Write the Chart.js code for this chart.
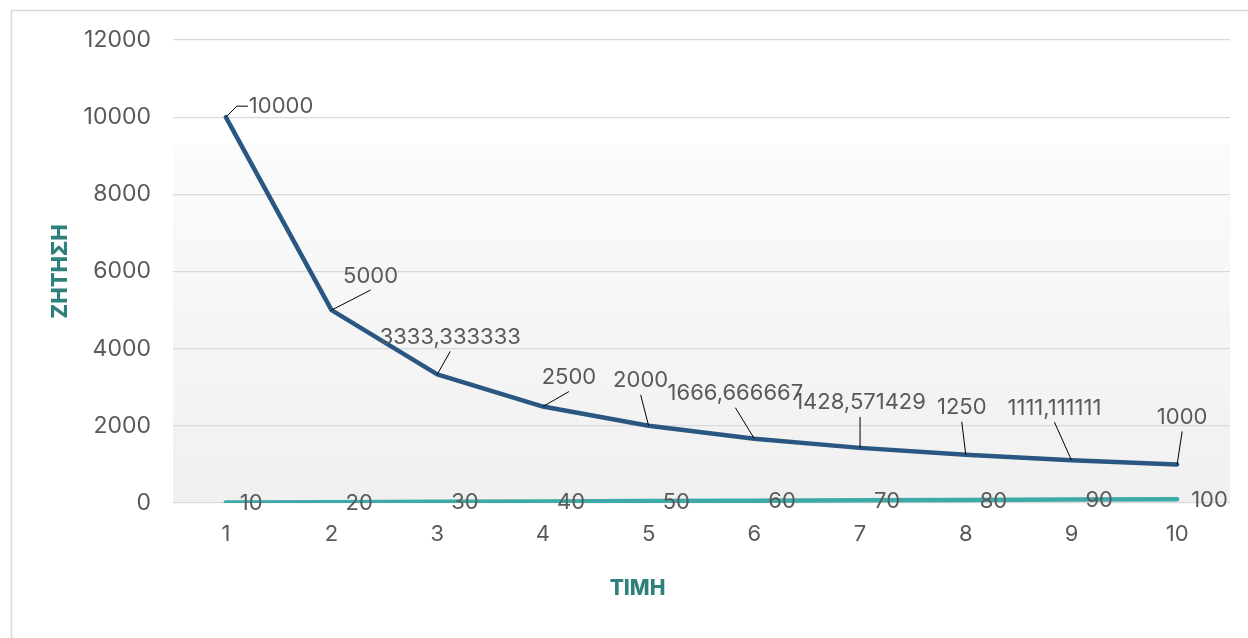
<!DOCTYPE html>
<html>
<head>
<meta charset="utf-8">
<script src="https://cdn.jsdelivr.net/npm/chart.js@4"></script>
<style>
  html, body { margin: 0; padding: 0; background: #fff; }
  #wrap { width: 1248px; height: 638px; position: relative; }
</style>
</head>
<body>
<div id="wrap"><canvas id="chart"></canvas></div>
<script>
// data
prices = ["1", "2", "3", "4", "5", "6", "7", "8", "9", "10"];
demand = [10000, 5000, 3333.333333, 2500, 2000, 1666.666667, 1428.571429, 1250, 1111.111111, 1000];
supply = [10, 20, 30, 40, 50, 60, 70, 80, 90, 100];
yTicks = [0, 2000, 4000, 6000, 8000, 10000, 12000];

// where each demand label sits, relative to its point (style only)
demandLabelOffsets = [[23, -11], [39, -34], [13, -37], [26, -29], [-8, -45],
    [-19, -45], [0, -45], [-4, -47], [-17, -52], [5, -47]];

fontFamily = 'Inter';
labelFont = '22px Inter';
labelColor = '#595959';
titleColor = '#2f7f7c';

fmt = (v) => String(v).replace('.', ',');

// outer frame + soft grey gradient behind the plot
backdrop = {
    id: 'backdrop',
    beforeDraw(chart) {
        var ctx = chart.ctx, a = chart.chartArea;
        ctx.save();
        ctx.fillStyle = '#ffffff';
        ctx.fillRect(0, 0, chart.width, chart.height);
        ctx.strokeStyle = '#d9d9d9';
        ctx.lineWidth = 1.5;
        ctx.strokeRect(11.5, 10.5, chart.width + 20, chart.height + 20);
        var top = a.top + (a.bottom - a.top) * 0.225;
        var g = ctx.createLinearGradient(0, top, 0, a.bottom);
        g.addColorStop(0, '#fbfbfb');
        g.addColorStop(1, '#f0f0f0');
        ctx.fillStyle = g;
        ctx.fillRect(a.left, top, a.right - a.left, a.bottom - top);
        ctx.restore();
    }
};

// value labels with leader lines, drawn like the spreadsheet did
pointLabels = {
    id: 'pointLabels',
    afterDatasetsDraw(chart) {
        var ctx = chart.ctx;
        ctx.save();
        ctx.font = labelFont;
        ctx.textBaseline = 'middle';

        var pts = chart.getDatasetMeta(0).data;
        pts.forEach(function(p, i) {
            var off = demandLabelOffsets[i];
            var txt = fmt(demand[i]);
            ctx.strokeStyle = '#000';
            ctx.lineWidth = 1;
            ctx.beginPath();
            if (i === 0) {
                var ly = p.y + off[1];
                ctx.moveTo(p.x, p.y);
                ctx.lineTo(p.x + 11, ly);
                ctx.lineTo(p.x + off[0] - 1, ly);
                ctx.stroke();
                ctx.fillStyle = labelColor;
                ctx.textAlign = 'left';
                ctx.fillText(txt, p.x + off[0], ly);
            } else {
                var cx = p.x + off[0], cy = p.y + off[1];
                ctx.moveTo(cx, cy + 14);
                ctx.lineTo(p.x, p.y);
                ctx.stroke();
                ctx.fillStyle = labelColor;
                ctx.textAlign = 'center';
                ctx.fillText(txt, cx, cy);
            }
        });

        var pts2 = chart.getDatasetMeta(1).data;
        ctx.textAlign = 'left';
        ctx.fillStyle = labelColor;
        pts2.forEach(function(p, i) {
            ctx.fillText(fmt(supply[i]), p.x + 14, p.y + 1);
        });

        // x title sits left of the plot centre in the original
        var a = chart.chartArea;
        ctx.font = '800 21px Inter';
        ctx.fillStyle = titleColor;
        ctx.textAlign = 'center';
        ctx.fillText('ΤΙΜΗ', (a.left + a.right) / 2 - 64, 589);
        ctx.restore();
    }
};

document.addEventListener('DOMContentLoaded', function() {
    var ctx = document.getElementById('chart').getContext('2d');
    new Chart(ctx, {
        type: 'line',
        data: {
            labels: prices,
            datasets: [
                { label: 'ΖΗΤΗΣΗ', data: demand, borderColor: '#2a5782', borderWidth: 4.5,
                  pointRadius: 0, borderCapStyle: 'round', borderJoinStyle: 'round', tension: 0 },
                { label: 'ΠΡΟΣΦΟΡΑ', data: supply, borderColor: '#3eaaa7', borderWidth: 4.5,
                  pointRadius: 0, borderCapStyle: 'round', borderJoinStyle: 'round', tension: 0 }
            ]
        },
        options: {
            responsive: true,
            maintainAspectRatio: false,
            animation: false,
            layout: { padding: { left: 36, right: 18, top: 40, bottom: 30 } },
            plugins: { legend: { display: false }, tooltip: { enabled: false } },
            scales: {
                x: {
                    offset: true,
                    grid: { display: false, drawTicks: false },
                    border: { display: false },
                    ticks: { color: labelColor, font: { family: fontFamily, size: 22 }, padding: 18 },
                    afterFit: (s) => { s.height = 105; }
                },
                y: {
                    min: 0, max: 12000,
                    afterBuildTicks: (s) => { s.ticks = yTicks.map(v => ({ value: v })); },
                    grid: { color: '#d9d9d9', lineWidth: 1.3, drawTicks: false },
                    border: { display: false },
                    ticks: { color: labelColor, font: { family: fontFamily, size: 23 }, padding: 22,
                             callback: (v) => String(v) },
                    title: { display: true, text: 'ΖΗΤΗΣΗ', color: titleColor,
                             font: { family: fontFamily, size: 22, weight: 800 }, padding: { top: 11, bottom: 0 } },
                    afterFit: (s) => { s.width = 137; }
                }
            }
        },
        plugins: [backdrop, pointLabels]
    });
});
</script>
</body>
</html>
